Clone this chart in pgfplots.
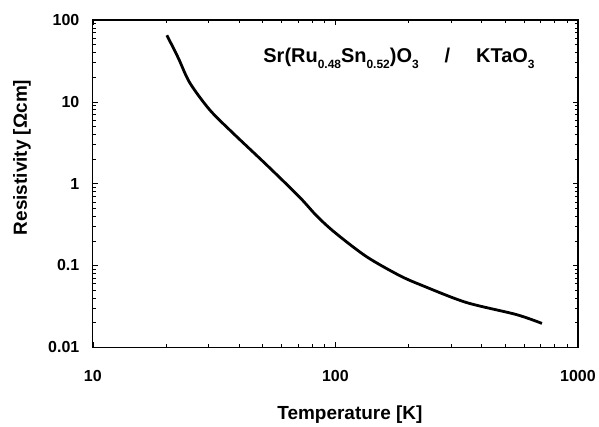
\documentclass[border=0pt]{standalone}
\usepackage{fontspec}
\setmainfont{Liberation Sans}
\usepackage{pgfplots}
\pgfplotsset{compat=1.18}
\newcommand{\sub}[1]{\raisebox{-0.55ex}{\fontsize{12}{14}\selectfont\bfseries #1}}
\begin{document}
\begin{tikzpicture}
\begin{axis}[
  name=ax,
  scale only axis,
  width=486pt, height=328pt,
  xmode=log, ymode=log,
  xmin=10, xmax=1000, ymin=0.01, ymax=100,
  xtick={10,100,1000}, xticklabels={10,100,1000},
  ytick={0.01,0.1,1,10,100}, yticklabels={0.01,0.1,1,10,100},
  tick align=inside,
  major tick length=5pt, minor tick length=3pt,
  axis line style={line width=1.3pt},
  every tick/.style={black, line width=0.6pt},
  ticklabel style={font=\fontsize{16}{18}\selectfont\bfseries},
  xticklabel style={anchor=center, yshift=-29pt},
  yticklabel style={anchor=east, xshift=-10pt},
  xlabel={\fontsize{19}{21}\selectfont\bfseries Temperature [K]},
  ylabel={\fontsize{19}{21}\selectfont\bfseries Resistivity [Ωcm]},
  xlabel style={at={(0.53,0)}, anchor=center, yshift=-67pt},
  ylabel style={at={(0,0.58)}, anchor=center, yshift=71pt},
  clip=false,
]
\addplot[black, line width=2.8pt, smooth, tension=0.5] coordinates {
(20.2,65) (22.5,34.4) (25.1,17.1) (30.3,8.0) (37.7,4.19) (52,1.70) (71,0.69) (84,0.40) (100,0.25) (134,0.129) (183,0.0760) (228,0.057) (346,0.0354) (556,0.0252) (711,0.0196)
};
\node[anchor=base, font=\fontsize{20}{22}\selectfont\bfseries] at (axis cs:183,29.9) {Sr(Ru\sub{0.48}Sn\sub{0.52})O\sub{3}\hspace{1.3em}/\hspace{1.3em}KTaO\sub{3}};
\end{axis}
\path ([shift={(-93pt,-77pt)}]ax.south west) rectangle ([shift={(20pt,20pt)}]ax.north east);
\end{tikzpicture}
\end{document}
